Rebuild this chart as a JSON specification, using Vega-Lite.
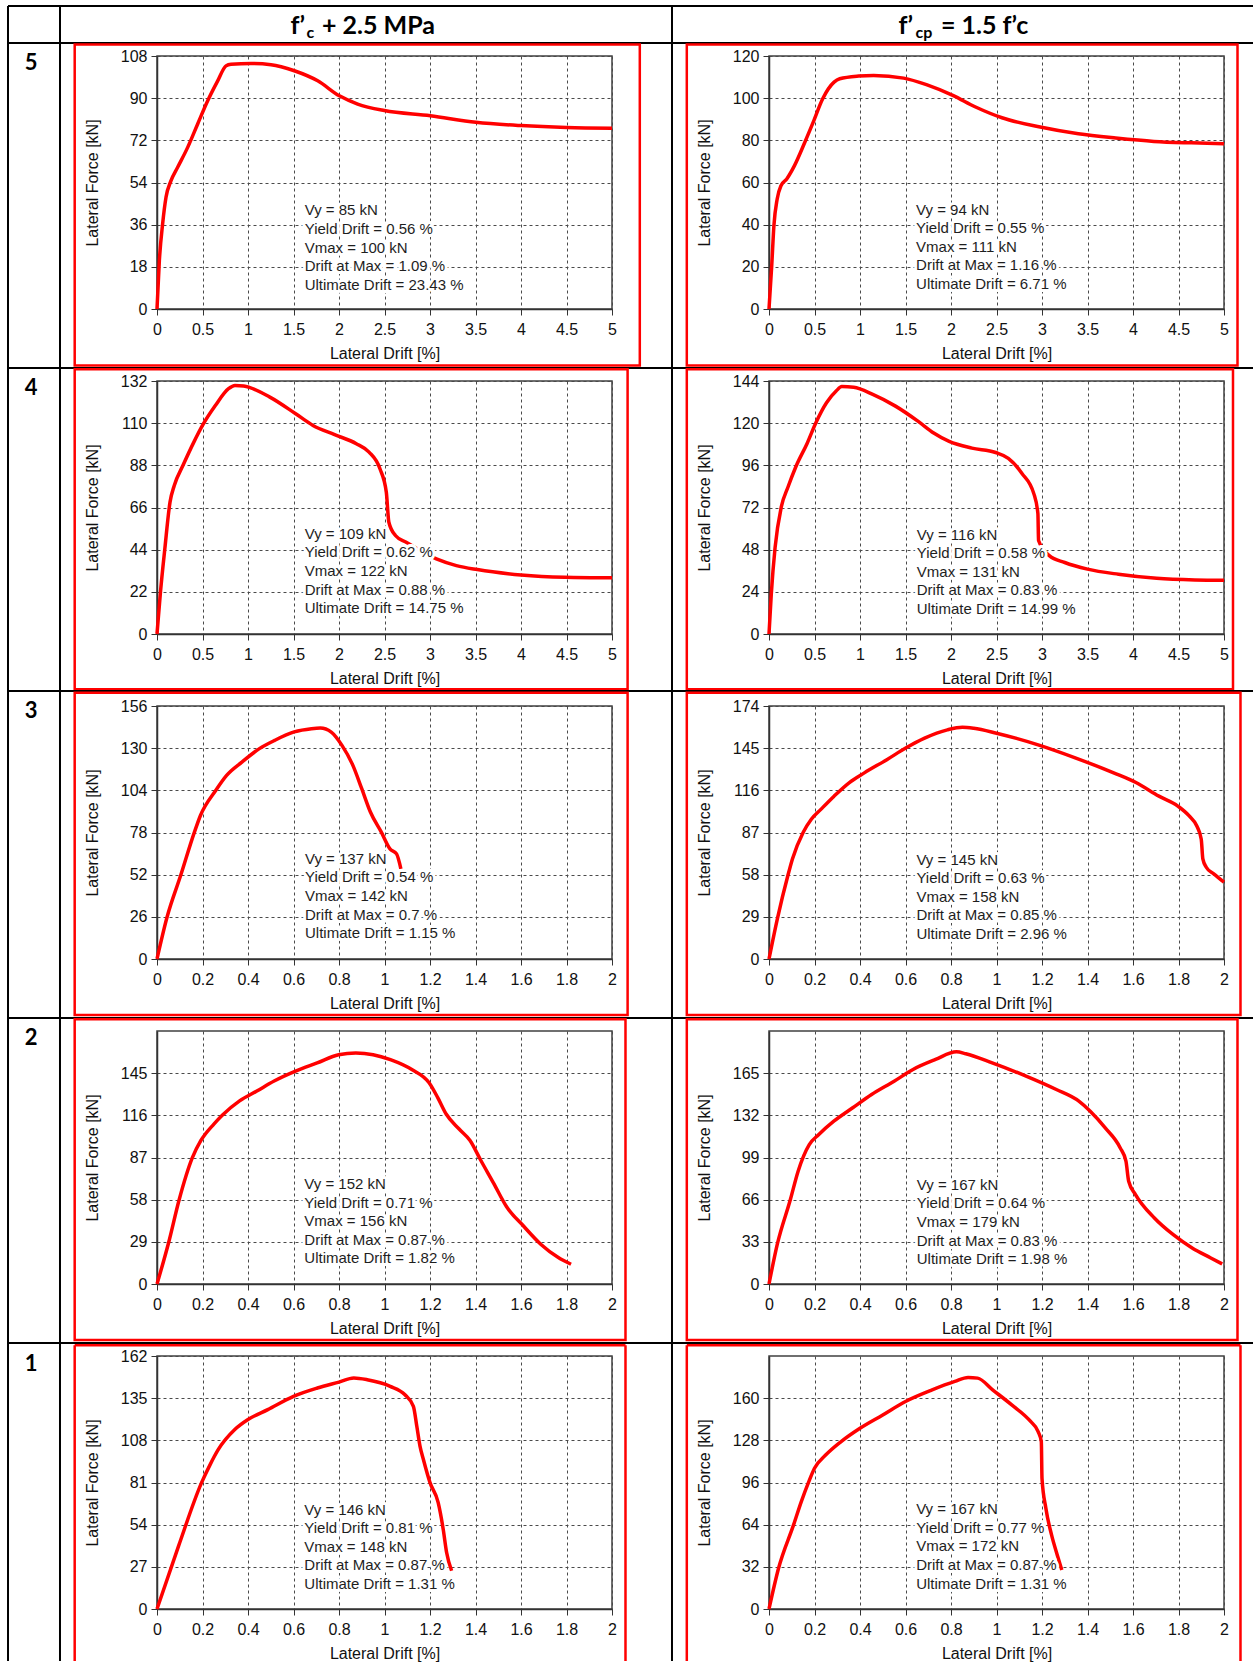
{
"$schema": "https://vega.github.io/schema/vega-lite/v6.json",
"padding": {"left": 6, "top": 4, "right": 0, "bottom": 0},
"background": "white",
"bounds": "flush",
"columns": 2,
"spacing": {"row": 72, "column": 157},
"datasets": {
"one": [{"k": 0}],
"d5a": [{"drift":0,"force":0},{"drift":0.026,"force":20.7},{"drift":0.062,"force":36.4},{"drift":0.099,"force":47.7},{"drift":0.154,"force":54.8},{"drift":0.227,"force":60.5},{"drift":0.337,"force":69},{"drift":0.447,"force":79},{"drift":0.557,"force":88.9},{"drift":0.667,"force":97.4},{"drift":0.758,"force":103.8},{"drift":0.813,"force":104.5},{"drift":1.033,"force":104.8},{"drift":1.253,"force":104.3},{"drift":1.509,"force":101.7},{"drift":1.766,"force":97.4},{"drift":2.004,"force":91},{"drift":2.205,"force":87.5},{"drift":2.498,"force":84.7},{"drift":3.004,"force":82.5},{"drift":3.505,"force":79.7},{"drift":4.0,"force":78.3},{"drift":4.5,"force":77.5},{"drift":5.0,"force":77.2}],
"d5b": [{"drift":0,"force":0},{"drift":0.03,"force":20.6},{"drift":0.054,"force":39.6},{"drift":0.09,"force":52.2},{"drift":0.133,"force":58.6},{"drift":0.195,"force":61.7},{"drift":0.28,"force":68},{"drift":0.395,"force":79.2},{"drift":0.486,"force":88.6},{"drift":0.59,"force":99.7},{"drift":0.715,"force":107.6},{"drift":0.777,"force":109.2},{"drift":0.985,"force":110.5},{"drift":1.15,"force":110.8},{"drift":1.48,"force":109.5},{"drift":1.73,"force":106.4},{"drift":2.02,"force":101.3},{"drift":2.27,"force":95.8},{"drift":2.56,"force":90.7},{"drift":2.98,"force":86.3},{"drift":3.4,"force":83.1},{"drift":3.81,"force":81.1},{"drift":4.23,"force":79.5},{"drift":4.64,"force":78.8},{"drift":5.0,"force":78.4}],
"d4a": [{"drift":0,"force":0},{"drift":0.038,"force":21.8},{"drift":0.086,"force":44.4},{"drift":0.143,"force":68.8},{"drift":0.19,"force":77.5},{"drift":0.286,"force":88},{"drift":0.405,"force":100.1},{"drift":0.5,"force":108.8},{"drift":0.643,"force":119.3},{"drift":0.786,"force":128},{"drift":0.857,"force":129.7},{"drift":0.952,"force":129.4},{"drift":1.24,"force":123.6},{"drift":1.524,"force":114.9},{"drift":1.714,"force":108.8},{"drift":1.952,"force":104},{"drift":2.19,"force":99.3},{"drift":2.33,"force":94.9},{"drift":2.45,"force":86.2},{"drift":2.52,"force":74},{"drift":2.548,"force":58.3},{"drift":2.62,"force":51.4},{"drift":2.738,"force":47.9},{"drift":3.07,"force":39.2},{"drift":3.29,"force":35.7},{"drift":3.52,"force":33.6},{"drift":4.0,"force":30.8},{"drift":4.48,"force":29.6},{"drift":5.0,"force":29.3}],
"d4b": [{"drift":0,"force":0},{"drift":0.025,"force":22.6},{"drift":0.067,"force":49.3},{"drift":0.135,"force":72.3},{"drift":0.21,"force":83.8},{"drift":0.295,"force":95.2},{"drift":0.42,"force":108.6},{"drift":0.514,"force":120.1},{"drift":0.632,"force":131.6},{"drift":0.738,"force":138.3},{"drift":0.8,"force":140.8},{"drift":0.93,"force":140.4},{"drift":1.14,"force":136.4},{"drift":1.39,"force":129.7},{"drift":1.64,"force":121},{"drift":1.81,"force":114.4},{"drift":1.98,"force":109.6},{"drift":2.23,"force":105.8},{"drift":2.49,"force":103.3},{"drift":2.63,"force":100},{"drift":2.78,"force":91.4},{"drift":2.91,"force":79.9},{"drift":2.955,"force":68.5},{"drift":2.962,"force":53.2},{"drift":3.08,"force":44.6},{"drift":3.25,"force":40.7},{"drift":3.5,"force":36.9},{"drift":3.84,"force":34},{"drift":4.26,"force":31.7},{"drift":4.68,"force":30.8},{"drift":5.0,"force":30.6}],
"d3a": [{"drift":0,"force":0},{"drift":0.044,"force":25.7},{"drift":0.105,"force":51.9},{"drift":0.163,"force":77.6},{"drift":0.191,"force":88.5},{"drift":0.258,"force":103.9},{"drift":0.306,"force":113.2},{"drift":0.373,"force":121.4},{"drift":0.45,"force":129.7},{"drift":0.517,"force":134.8},{"drift":0.603,"force":140},{"drift":0.679,"force":142},{"drift":0.718,"force":142.4},{"drift":0.766,"force":139.9},{"drift":0.813,"force":131.7},{"drift":0.861,"force":119.4},{"drift":0.9,"force":105},{"drift":0.938,"force":90.6},{"drift":0.986,"force":78.2},{"drift":1.024,"force":67.9},{"drift":1.053,"force":64.8},{"drift":1.072,"force":55.6}],
"d3b": [{"drift":0,"force":0},{"drift":0.037,"force":27.8},{"drift":0.083,"force":57.4},{"drift":0.103,"force":68.8},{"drift":0.15,"force":87},{"drift":0.186,"force":96.1},{"drift":0.228,"force":102.9},{"drift":0.286,"force":112},{"drift":0.352,"force":121.2},{"drift":0.419,"force":128},{"drift":0.518,"force":137.1},{"drift":0.601,"force":145.1},{"drift":0.684,"force":151.9},{"drift":0.784,"force":157.6},{"drift":0.85,"force":159.4},{"drift":0.9,"force":158.7},{"drift":1.0,"force":155.3},{"drift":1.183,"force":147.3},{"drift":1.349,"force":138.2},{"drift":1.515,"force":128},{"drift":1.615,"force":121.2},{"drift":1.714,"force":112},{"drift":1.797,"force":105.2},{"drift":1.847,"force":98.4},{"drift":1.88,"force":91.6},{"drift":1.9,"force":82.4},{"drift":1.907,"force":68.8},{"drift":1.922,"force":63.1},{"drift":1.955,"force":58.5},{"drift":2.0,"force":52.8}],
"d2a": [{"drift":0,"force":0},{"drift":0.051,"force":28.4},{"drift":0.098,"force":58.3},{"drift":0.155,"force":86.7},{"drift":0.193,"force":98.7},{"drift":0.25,"force":110},{"drift":0.288,"force":116.2},{"drift":0.363,"force":125.9},{"drift":0.439,"force":132.7},{"drift":0.515,"force":139.6},{"drift":0.609,"force":146.4},{"drift":0.704,"force":152},{"drift":0.798,"force":157.7},{"drift":0.874,"force":158.8},{"drift":0.95,"force":157.7},{"drift":1.026,"force":154.3},{"drift":1.12,"force":147.5},{"drift":1.196,"force":138.4},{"drift":1.234,"force":128.2},{"drift":1.271,"force":116.9},{"drift":1.328,"force":106.6},{"drift":1.376,"force":98.7},{"drift":1.423,"force":85.1},{"drift":1.48,"force":69.2},{"drift":1.536,"force":53.3},{"drift":1.612,"force":39.7},{"drift":1.688,"force":27.2},{"drift":1.764,"force":18.2},{"drift":1.82,"force":13.6}],
"d2b": [{"drift":0,"force":0},{"drift":0.036,"force":30.8},{"drift":0.094,"force":66.1},{"drift":0.128,"force":88.3},{"drift":0.177,"force":109.1},{"drift":0.219,"force":117},{"drift":0.285,"force":127.4},{"drift":0.368,"force":137.9},{"drift":0.451,"force":148.3},{"drift":0.55,"force":158.7},{"drift":0.633,"force":167.9},{"drift":0.732,"force":175.7},{"drift":0.824,"force":181.7},{"drift":0.865,"force":180.2},{"drift":0.981,"force":173.1},{"drift":1.13,"force":162.7},{"drift":1.263,"force":152.2},{"drift":1.362,"force":143.1},{"drift":1.412,"force":135.2},{"drift":1.478,"force":122.2},{"drift":1.544,"force":106.5},{"drift":1.569,"force":96.1},{"drift":1.581,"force":80.4},{"drift":1.611,"force":70},{"drift":1.694,"force":51.7},{"drift":1.777,"force":38.6},{"drift":1.86,"force":28.2},{"drift":1.942,"force":20.4},{"drift":1.992,"force":15.7}],
"d1a": [{"drift":0,"force":0},{"drift":0.095,"force":40.4},{"drift":0.196,"force":80.9},{"drift":0.233,"force":92.3},{"drift":0.269,"force":102},{"drift":0.342,"force":114.9},{"drift":0.4,"force":121.3},{"drift":0.487,"force":127.7},{"drift":0.6,"force":136.2},{"drift":0.705,"force":141.5},{"drift":0.8,"force":145.3},{"drift":0.865,"force":147.9},{"drift":0.924,"force":146.8},{"drift":1.025,"force":142.6},{"drift":1.09,"force":137.2},{"drift":1.127,"force":129.8},{"drift":1.142,"force":117},{"drift":1.156,"force":104.3},{"drift":1.171,"force":95.7},{"drift":1.2,"force":80.9},{"drift":1.236,"force":68.1},{"drift":1.258,"force":51.1},{"drift":1.273,"force":36.2},{"drift":1.295,"force":24.5}],
"d1b": [{"drift":0,"force":0},{"drift":0.042,"force":30.9},{"drift":0.108,"force":63.8},{"drift":0.142,"force":81.5},{"drift":0.175,"force":96.7},{"drift":0.2,"force":106.8},{"drift":0.25,"force":117},{"drift":0.317,"force":127.1},{"drift":0.4,"force":137.2},{"drift":0.5,"force":147.3},{"drift":0.6,"force":157.5},{"drift":0.717,"force":166.3},{"drift":0.817,"force":172.7},{"drift":0.875,"force":175.7},{"drift":0.917,"force":175.2},{"drift":0.983,"force":166.3},{"drift":1.067,"force":154.9},{"drift":1.15,"force":142.3},{"drift":1.183,"force":134.7},{"drift":1.197,"force":127.1},{"drift":1.2,"force":99.2},{"drift":1.217,"force":76.5},{"drift":1.242,"force":56.2},{"drift":1.267,"force":41},{"drift":1.287,"force":29.6}]
},
"concat": [
{"width": 455, "height": 253, "layer": [
 {"data": {"name": "d5a"}, "mark": {"type": "line", "color": "#ff0000", "strokeWidth": 3.5, "strokeJoin": "round", "interpolate": "monotone"},
  "encoding": {"x": {"field": "drift", "type": "quantitative", "scale": {"domain": [0, 5], "nice": false, "zero": false}, "axis": {"title": "Lateral Drift [%]", "values": [0,0.5,1,1.5,2,2.5,3,3.5,4,4.5,5], "format": ".1~f"}},
   "y": {"field": "force", "type": "quantitative", "scale": {"domain": [0, 108], "nice": false, "zero": false}, "axis": {"title": "Lateral Force [kN]", "values": [0,18,36,54,72,90,108], "format": "d"}}}},
 {"data": {"name": "one"}, "mark": {"type": "text", "align": "left", "baseline": "middle", "font": "Liberation Sans", "fontSize": 15, "lineHeight": 18.6, "fill": "#ffffff", "stroke": "#ffffff", "strokeWidth": 6, "strokeJoin": "round"},
  "encoding": {"x": {"datum": 1.623}, "y": {"datum": 42.08}, "text": {"value": ["Vy = 85 kN", "Yield Drift = 0.56 %", "Vmax = 100 kN", "Drift at Max = 1.09 %", "Ultimate Drift = 23.43 %"]}}},
 {"data": {"name": "one"}, "mark": {"type": "text", "align": "left", "baseline": "middle", "font": "Liberation Sans", "fontSize": 15, "lineHeight": 18.6, "color": "#1e1e1e"},
  "encoding": {"x": {"datum": 1.623}, "y": {"datum": 42.08}, "text": {"value": ["Vy = 85 kN", "Yield Drift = 0.56 %", "Vmax = 100 kN", "Drift at Max = 1.09 %", "Ultimate Drift = 23.43 %"]}}},
 {"data": {"name": "one"}, "mark": {"type": "rule", "color": "#000000", "strokeWidth": 2}, "encoding": {"x": {"datum": -1.6374}, "x2": {"datum": 12.044}, "y": {"datum": 129.344}}},
 {"data": {"name": "one"}, "mark": {"type": "rule", "color": "#000000", "strokeWidth": 2}, "encoding": {"x": {"datum": -1.6374}, "x2": {"datum": 5.6593}, "y": {"datum": 113.549}}},
 {"data": {"name": "one"}, "mark": {"type": "rule", "color": "#000000", "strokeWidth": 2}, "encoding": {"x": {"datum": -1.6374}, "y": {"datum": 129.344}, "y2": {"datum": -25.186}}},
 {"data": {"name": "one"}, "mark": {"type": "rule", "color": "#000000", "strokeWidth": 2}, "encoding": {"x": {"datum": -1.0659}, "y": {"datum": 129.344}, "y2": {"datum": -25.186}}},
 {"data": {"name": "one"}, "mark": {"type": "rule", "color": "#000000", "strokeWidth": 2}, "encoding": {"x": {"datum": 5.6593}, "y": {"datum": 129.344}, "y2": {"datum": -25.186}}},
 {"data": {"name": "one"}, "mark": {"type": "text", "font": "Lato", "fontWeight": "bold", "fontSize": 22, "align": "center", "baseline": "middle", "color": "#000000"}, "encoding": {"x": {"datum": -1.3846}, "y": {"datum": 105.14}, "text": {"value": "5"}}},
 {"data": {"name": "one"}, "mark": {"type": "rect", "stroke": "#ff0000", "strokeWidth": 2.5, "fillOpacity": 0}, "encoding": {"x": {"datum": -0.9044}, "x2": {"datum": 5.3055}, "y": {"datum": 112.909}, "y2": {"datum": -24.119}}},
 {"data": {"name": "one"}, "mark": {"type": "text", "font": "Lato", "fontWeight": "bold", "fontSize": 25, "align": "right", "baseline": "alphabetic", "dx": -61, "color": "#000000"}, "encoding": {"x": {"datum": 2.2967}, "y": {"datum": 117.263}, "text": {"value": "f’"}}},
 {"data": {"name": "one"}, "mark": {"type": "text", "font": "Lato", "fontWeight": "bold", "fontSize": 16, "align": "left", "baseline": "alphabetic", "dx": -59.5, "dy": 4, "color": "#000000"}, "encoding": {"x": {"datum": 2.2967}, "y": {"datum": 117.263}, "text": {"value": "c"}}},
 {"data": {"name": "one"}, "mark": {"type": "text", "font": "Lato", "fontWeight": "bold", "fontSize": 25, "align": "left", "baseline": "alphabetic", "dx": -44, "color": "#000000"}, "encoding": {"x": {"datum": 2.2967}, "y": {"datum": 117.263}, "text": {"value": "+ 2.5 MPa"}}}
]},
{"width": 455, "height": 253, "layer": [
 {"data": {"name": "d5b"}, "mark": {"type": "line", "color": "#ff0000", "strokeWidth": 3.5, "strokeJoin": "round", "interpolate": "monotone"},
  "encoding": {"x": {"field": "drift", "type": "quantitative", "scale": {"domain": [0, 5], "nice": false, "zero": false}, "axis": {"title": "Lateral Drift [%]", "values": [0,0.5,1,1.5,2,2.5,3,3.5,4,4.5,5], "format": ".1~f"}},
   "y": {"field": "force", "type": "quantitative", "scale": {"domain": [0, 120], "nice": false, "zero": false}, "axis": {"title": "Lateral Force [kN]", "values": [0,20,40,60,80,100,120], "format": "d"}}}},
 {"data": {"name": "one"}, "mark": {"type": "text", "align": "left", "baseline": "middle", "font": "Liberation Sans", "fontSize": 15, "lineHeight": 18.6, "fill": "#ffffff", "stroke": "#ffffff", "strokeWidth": 6, "strokeJoin": "round"},
  "encoding": {"x": {"datum": 1.616}, "y": {"datum": 47.15}, "text": {"value": ["Vy = 94 kN", "Yield Drift = 0.55 %", "Vmax = 111 kN", "Drift at Max = 1.16 %", "Ultimate Drift = 6.71 %"]}}},
 {"data": {"name": "one"}, "mark": {"type": "text", "align": "left", "baseline": "middle", "font": "Liberation Sans", "fontSize": 15, "lineHeight": 18.6, "color": "#1e1e1e"},
  "encoding": {"x": {"datum": 1.616}, "y": {"datum": 47.15}, "text": {"value": ["Vy = 94 kN", "Yield Drift = 0.55 %", "Vmax = 111 kN", "Drift at Max = 1.16 %", "Ultimate Drift = 6.71 %"]}}},
 {"data": {"name": "one"}, "mark": {"type": "rule", "color": "#000000", "strokeWidth": 2}, "encoding": {"x": {"datum": -1.0659}, "x2": {"datum": 5.3187}, "y": {"datum": 126.166}}},
 {"data": {"name": "one"}, "mark": {"type": "rect", "stroke": "#ff0000", "strokeWidth": 2.5, "fillOpacity": 0}, "encoding": {"x": {"datum": -0.9033}, "x2": {"datum": 5.1484}, "y": {"datum": 125.455}, "y2": {"datum": -26.798}}},
 {"data": {"name": "one"}, "mark": {"type": "text", "font": "Lato", "fontWeight": "bold", "fontSize": 25, "align": "right", "baseline": "alphabetic", "dx": -50, "color": "#000000"}, "encoding": {"x": {"datum": 2.1319}, "y": {"datum": 130.293}, "text": {"value": "f’"}}},
 {"data": {"name": "one"}, "mark": {"type": "text", "font": "Lato", "fontWeight": "bold", "fontSize": 16, "align": "left", "baseline": "alphabetic", "dx": -47.5, "dy": 4, "color": "#000000"}, "encoding": {"x": {"datum": 2.1319}, "y": {"datum": 130.293}, "text": {"value": "cp"}}},
 {"data": {"name": "one"}, "mark": {"type": "text", "font": "Lato", "fontWeight": "bold", "fontSize": 25, "align": "left", "baseline": "alphabetic", "dx": -22, "color": "#000000"}, "encoding": {"x": {"datum": 2.1319}, "y": {"datum": 130.293}, "text": {"value": "= 1.5 f’c"}}}
]},
{"width": 455, "height": 253, "layer": [
 {"data": {"name": "d4a"}, "mark": {"type": "line", "color": "#ff0000", "strokeWidth": 3.5, "strokeJoin": "round", "interpolate": "monotone"},
  "encoding": {"x": {"field": "drift", "type": "quantitative", "scale": {"domain": [0, 5], "nice": false, "zero": false}, "axis": {"title": "Lateral Drift [%]", "values": [0,0.5,1,1.5,2,2.5,3,3.5,4,4.5,5], "format": ".1~f"}},
   "y": {"field": "force", "type": "quantitative", "scale": {"domain": [0, 132], "nice": false, "zero": false}, "axis": {"title": "Lateral Force [kN]", "values": [0,22,44,66,88,110,132], "format": "d"}}}},
 {"data": {"name": "one"}, "mark": {"type": "text", "align": "left", "baseline": "middle", "font": "Liberation Sans", "fontSize": 15, "lineHeight": 18.6, "fill": "#ffffff", "stroke": "#ffffff", "strokeWidth": 6, "strokeJoin": "round"},
  "encoding": {"x": {"datum": 1.623}, "y": {"datum": 52.24}, "text": {"value": ["Vy = 109 kN", "Yield Drift = 0.62 %", "Vmax = 122 kN", "Drift at Max = 0.88 %", "Ultimate Drift = 14.75 %"]}}},
 {"data": {"name": "one"}, "mark": {"type": "text", "align": "left", "baseline": "middle", "font": "Liberation Sans", "fontSize": 15, "lineHeight": 18.6, "color": "#1e1e1e"},
  "encoding": {"x": {"datum": 1.623}, "y": {"datum": 52.24}, "text": {"value": ["Vy = 109 kN", "Yield Drift = 0.62 %", "Vmax = 122 kN", "Drift at Max = 0.88 %", "Ultimate Drift = 14.75 %"]}}},
 {"data": {"name": "one"}, "mark": {"type": "rule", "color": "#000000", "strokeWidth": 2}, "encoding": {"x": {"datum": -1.6374}, "x2": {"datum": 5.6593}, "y": {"datum": 138.783}}},
 {"data": {"name": "one"}, "mark": {"type": "rule", "color": "#000000", "strokeWidth": 2}, "encoding": {"x": {"datum": -1.6374}, "y": {"datum": 138.783}, "y2": {"datum": -29.739}}},
 {"data": {"name": "one"}, "mark": {"type": "rule", "color": "#000000", "strokeWidth": 2}, "encoding": {"x": {"datum": -1.0659}, "y": {"datum": 138.783}, "y2": {"datum": -29.739}}},
 {"data": {"name": "one"}, "mark": {"type": "rule", "color": "#000000", "strokeWidth": 2}, "encoding": {"x": {"datum": 5.6593}, "y": {"datum": 138.783}, "y2": {"datum": -29.739}}},
 {"data": {"name": "one"}, "mark": {"type": "text", "font": "Lato", "fontWeight": "bold", "fontSize": 22, "align": "center", "baseline": "middle", "color": "#000000"}, "encoding": {"x": {"datum": -1.3846}, "y": {"datum": 128.504}, "text": {"value": "4"}}},
 {"data": {"name": "one"}, "mark": {"type": "rect", "stroke": "#ff0000", "strokeWidth": 2.5, "fillOpacity": 0}, "encoding": {"x": {"datum": -0.9044}, "x2": {"datum": 5.1714}, "y": {"datum": 138.104}, "y2": {"datum": -28.852}}}
]},
{"width": 455, "height": 253, "layer": [
 {"data": {"name": "d4b"}, "mark": {"type": "line", "color": "#ff0000", "strokeWidth": 3.5, "strokeJoin": "round", "interpolate": "monotone"},
  "encoding": {"x": {"field": "drift", "type": "quantitative", "scale": {"domain": [0, 5], "nice": false, "zero": false}, "axis": {"title": "Lateral Drift [%]", "values": [0,0.5,1,1.5,2,2.5,3,3.5,4,4.5,5], "format": ".1~f"}},
   "y": {"field": "force", "type": "quantitative", "scale": {"domain": [0, 144], "nice": false, "zero": false}, "axis": {"title": "Lateral Force [kN]", "values": [0,24,48,72,96,120,144], "format": "d"}}}},
 {"data": {"name": "one"}, "mark": {"type": "text", "align": "left", "baseline": "middle", "font": "Liberation Sans", "fontSize": 15, "lineHeight": 18.6, "fill": "#ffffff", "stroke": "#ffffff", "strokeWidth": 6, "strokeJoin": "round"},
  "encoding": {"x": {"datum": 1.624}, "y": {"datum": 56.63}, "text": {"value": ["Vy = 116 kN", "Yield Drift = 0.58 %", "Vmax = 131 kN", "Drift at Max = 0.83 %", "Ultimate Drift = 14.99 %"]}}},
 {"data": {"name": "one"}, "mark": {"type": "text", "align": "left", "baseline": "middle", "font": "Liberation Sans", "fontSize": 15, "lineHeight": 18.6, "color": "#1e1e1e"},
  "encoding": {"x": {"datum": 1.624}, "y": {"datum": 56.63}, "text": {"value": ["Vy = 116 kN", "Yield Drift = 0.58 %", "Vmax = 131 kN", "Drift at Max = 0.83 %", "Ultimate Drift = 14.99 %"]}}},
 {"data": {"name": "one"}, "mark": {"type": "rule", "color": "#000000", "strokeWidth": 2}, "encoding": {"x": {"datum": -1.0659}, "x2": {"datum": 5.3187}, "y": {"datum": 151.399}}},
 {"data": {"name": "one"}, "mark": {"type": "rect", "stroke": "#ff0000", "strokeWidth": 2.5, "fillOpacity": 0}, "encoding": {"x": {"datum": -0.9033}, "x2": {"datum": 5.0989}, "y": {"datum": 150.659}, "y2": {"datum": -31.475}}}
]},
{"width": 455, "height": 253, "layer": [
 {"data": {"name": "d3a"}, "mark": {"type": "line", "color": "#ff0000", "strokeWidth": 3.5, "strokeJoin": "round", "interpolate": "monotone"},
  "encoding": {"x": {"field": "drift", "type": "quantitative", "scale": {"domain": [0, 2], "nice": false, "zero": false}, "axis": {"title": "Lateral Drift [%]", "values": [0,0.2,0.4,0.6,0.8,1,1.2,1.4,1.6,1.8,2], "format": ".1~f"}},
   "y": {"field": "force", "type": "quantitative", "scale": {"domain": [0, 156], "nice": false, "zero": false}, "axis": {"title": "Lateral Force [kN]", "values": [0,26,52,78,104,130,156], "format": "d"}}}},
 {"data": {"name": "one"}, "mark": {"type": "text", "align": "left", "baseline": "middle", "font": "Liberation Sans", "fontSize": 15, "lineHeight": 18.6, "fill": "#ffffff", "stroke": "#ffffff", "strokeWidth": 6, "strokeJoin": "round"},
  "encoding": {"x": {"datum": 0.6505}, "y": {"datum": 61.73}, "text": {"value": ["Vy = 137 kN", "Yield Drift = 0.54 %", "Vmax = 142 kN", "Drift at Max = 0.7 %", "Ultimate Drift = 1.15 %"]}}},
 {"data": {"name": "one"}, "mark": {"type": "text", "align": "left", "baseline": "middle", "font": "Liberation Sans", "fontSize": 15, "lineHeight": 18.6, "color": "#1e1e1e"},
  "encoding": {"x": {"datum": 0.6505}, "y": {"datum": 61.73}, "text": {"value": ["Vy = 137 kN", "Yield Drift = 0.54 %", "Vmax = 142 kN", "Drift at Max = 0.7 %", "Ultimate Drift = 1.15 %"]}}},
 {"data": {"name": "one"}, "mark": {"type": "rule", "color": "#000000", "strokeWidth": 2}, "encoding": {"x": {"datum": -0.6549}, "x2": {"datum": 2.2637}, "y": {"datum": 165.249}}},
 {"data": {"name": "one"}, "mark": {"type": "rule", "color": "#000000", "strokeWidth": 2}, "encoding": {"x": {"datum": -0.6549}, "y": {"datum": 165.249}, "y2": {"datum": -36.38}}},
 {"data": {"name": "one"}, "mark": {"type": "rule", "color": "#000000", "strokeWidth": 2}, "encoding": {"x": {"datum": -0.4264}, "y": {"datum": 165.249}, "y2": {"datum": -36.38}}},
 {"data": {"name": "one"}, "mark": {"type": "rule", "color": "#000000", "strokeWidth": 2}, "encoding": {"x": {"datum": 2.2637}, "y": {"datum": 165.249}, "y2": {"datum": -36.38}}},
 {"data": {"name": "one"}, "mark": {"type": "text", "font": "Lato", "fontWeight": "bold", "fontSize": 22, "align": "center", "baseline": "middle", "color": "#000000"}, "encoding": {"x": {"datum": -0.5538}, "y": {"datum": 152.917}, "text": {"value": "3"}}},
 {"data": {"name": "one"}, "mark": {"type": "rect", "stroke": "#ff0000", "strokeWidth": 2.5, "fillOpacity": 0}, "encoding": {"x": {"datum": -0.3618}, "x2": {"datum": 2.0686}, "y": {"datum": 164.201}, "y2": {"datum": -34.53}}}
]},
{"width": 455, "height": 253, "layer": [
 {"data": {"name": "d3b"}, "mark": {"type": "line", "color": "#ff0000", "strokeWidth": 3.5, "strokeJoin": "round", "interpolate": "monotone"},
  "encoding": {"x": {"field": "drift", "type": "quantitative", "scale": {"domain": [0, 2], "nice": false, "zero": false}, "axis": {"title": "Lateral Drift [%]", "values": [0,0.2,0.4,0.6,0.8,1,1.2,1.4,1.6,1.8,2], "format": ".1~f"}},
   "y": {"field": "force", "type": "quantitative", "scale": {"domain": [0, 174], "nice": false, "zero": false}, "axis": {"title": "Lateral Force [kN]", "values": [0,29,58,87,116,145,174], "format": "d"}}}},
 {"data": {"name": "one"}, "mark": {"type": "text", "align": "left", "baseline": "middle", "font": "Liberation Sans", "fontSize": 15, "lineHeight": 18.6, "fill": "#ffffff", "stroke": "#ffffff", "strokeWidth": 6, "strokeJoin": "round"},
  "encoding": {"x": {"datum": 0.648}, "y": {"datum": 68.32}, "text": {"value": ["Vy = 145 kN", "Yield Drift = 0.63 %", "Vmax = 158 kN", "Drift at Max = 0.85 %", "Ultimate Drift = 2.96 %"]}}},
 {"data": {"name": "one"}, "mark": {"type": "text", "align": "left", "baseline": "middle", "font": "Liberation Sans", "fontSize": 15, "lineHeight": 18.6, "color": "#1e1e1e"},
  "encoding": {"x": {"datum": 0.648}, "y": {"datum": 68.32}, "text": {"value": ["Vy = 145 kN", "Yield Drift = 0.63 %", "Vmax = 158 kN", "Drift at Max = 0.85 %", "Ultimate Drift = 2.96 %"]}}},
 {"data": {"name": "one"}, "mark": {"type": "rule", "color": "#000000", "strokeWidth": 2}, "encoding": {"x": {"datum": -0.4264}, "x2": {"datum": 2.1275}, "y": {"datum": 184.316}}},
 {"data": {"name": "one"}, "mark": {"type": "rect", "stroke": "#ff0000", "strokeWidth": 2.5, "fillOpacity": 0}, "encoding": {"x": {"datum": -0.3613}, "x2": {"datum": 2.0725}, "y": {"datum": 183.147}, "y2": {"datum": -38.514}}}
]},
{"width": 455, "height": 253, "layer": [
 {"data": {"name": "d2a"}, "mark": {"type": "line", "color": "#ff0000", "strokeWidth": 3.5, "strokeJoin": "round", "interpolate": "monotone"},
  "encoding": {"x": {"field": "drift", "type": "quantitative", "scale": {"domain": [0, 2], "nice": false, "zero": false}, "axis": {"title": "Lateral Drift [%]", "values": [0,0.2,0.4,0.6,0.8,1,1.2,1.4,1.6,1.8,2], "format": ".1~f"}},
   "y": {"field": "force", "type": "quantitative", "scale": {"domain": [0, 174], "nice": false, "zero": false}, "axis": {"title": "Lateral Force [kN]", "values": [0,29,58,87,116,145], "format": "d"}}}},
 {"data": {"name": "one"}, "mark": {"type": "text", "align": "left", "baseline": "middle", "font": "Liberation Sans", "fontSize": 15, "lineHeight": 18.6, "fill": "#ffffff", "stroke": "#ffffff", "strokeWidth": 6, "strokeJoin": "round"},
  "encoding": {"x": {"datum": 0.6475}, "y": {"datum": 68.73}, "text": {"value": ["Vy = 152 kN", "Yield Drift = 0.71 %", "Vmax = 156 kN", "Drift at Max = 0.87 %", "Ultimate Drift = 1.82 %"]}}},
 {"data": {"name": "one"}, "mark": {"type": "text", "align": "left", "baseline": "middle", "font": "Liberation Sans", "fontSize": 15, "lineHeight": 18.6, "color": "#1e1e1e"},
  "encoding": {"x": {"datum": 0.6475}, "y": {"datum": 68.73}, "text": {"value": ["Vy = 152 kN", "Yield Drift = 0.71 %", "Vmax = 156 kN", "Drift at Max = 0.87 %", "Ultimate Drift = 1.82 %"]}}},
 {"data": {"name": "one"}, "mark": {"type": "rule", "color": "#000000", "strokeWidth": 2}, "encoding": {"x": {"datum": -0.6549}, "x2": {"datum": 2.2637}, "y": {"datum": 182.941}}},
 {"data": {"name": "one"}, "mark": {"type": "rule", "color": "#000000", "strokeWidth": 2}, "encoding": {"x": {"datum": -0.6549}, "y": {"datum": 182.941}, "y2": {"datum": -40.577}}},
 {"data": {"name": "one"}, "mark": {"type": "rule", "color": "#000000", "strokeWidth": 2}, "encoding": {"x": {"datum": -0.4264}, "y": {"datum": 182.941}, "y2": {"datum": -40.577}}},
 {"data": {"name": "one"}, "mark": {"type": "rule", "color": "#000000", "strokeWidth": 2}, "encoding": {"x": {"datum": 2.2637}, "y": {"datum": 182.941}, "y2": {"datum": -40.577}}},
 {"data": {"name": "one"}, "mark": {"type": "text", "font": "Lato", "fontWeight": "bold", "fontSize": 22, "align": "center", "baseline": "middle", "color": "#000000"}, "encoding": {"x": {"datum": -0.5538}, "y": {"datum": 169.392}, "text": {"value": "2"}}},
 {"data": {"name": "one"}, "mark": {"type": "rect", "stroke": "#ff0000", "strokeWidth": 2.5, "fillOpacity": 0}, "encoding": {"x": {"datum": -0.3618}, "x2": {"datum": 2.0593}, "y": {"datum": 182.047}, "y2": {"datum": -38.514}}}
]},
{"width": 455, "height": 253, "layer": [
 {"data": {"name": "d2b"}, "mark": {"type": "line", "color": "#ff0000", "strokeWidth": 3.5, "strokeJoin": "round", "interpolate": "monotone"},
  "encoding": {"x": {"field": "drift", "type": "quantitative", "scale": {"domain": [0, 2], "nice": false, "zero": false}, "axis": {"title": "Lateral Drift [%]", "values": [0,0.2,0.4,0.6,0.8,1,1.2,1.4,1.6,1.8,2], "format": ".1~f"}},
   "y": {"field": "force", "type": "quantitative", "scale": {"domain": [0, 198], "nice": false, "zero": false}, "axis": {"title": "Lateral Force [kN]", "values": [0,33,66,99,132,165], "format": "d"}}}},
 {"data": {"name": "one"}, "mark": {"type": "text", "align": "left", "baseline": "middle", "font": "Liberation Sans", "fontSize": 15, "lineHeight": 18.6, "fill": "#ffffff", "stroke": "#ffffff", "strokeWidth": 6, "strokeJoin": "round"},
  "encoding": {"x": {"datum": 0.6496}, "y": {"datum": 77.67}, "text": {"value": ["Vy = 167 kN", "Yield Drift = 0.64 %", "Vmax = 179 kN", "Drift at Max = 0.83 %", "Ultimate Drift = 1.98 %"]}}},
 {"data": {"name": "one"}, "mark": {"type": "text", "align": "left", "baseline": "middle", "font": "Liberation Sans", "fontSize": 15, "lineHeight": 18.6, "color": "#1e1e1e"},
  "encoding": {"x": {"datum": 0.6496}, "y": {"datum": 77.67}, "text": {"value": ["Vy = 167 kN", "Yield Drift = 0.64 %", "Vmax = 179 kN", "Drift at Max = 0.83 %", "Ultimate Drift = 1.98 %"]}}},
 {"data": {"name": "one"}, "mark": {"type": "rule", "color": "#000000", "strokeWidth": 2}, "encoding": {"x": {"datum": -0.4264}, "x2": {"datum": 2.1275}, "y": {"datum": 208.174}}},
 {"data": {"name": "one"}, "mark": {"type": "rect", "stroke": "#ff0000", "strokeWidth": 2.5, "fillOpacity": 0}, "encoding": {"x": {"datum": -0.3613}, "x2": {"datum": 2.0593}, "y": {"datum": 207.157}, "y2": {"datum": -43.826}}}
]},
{"width": 455, "height": 253, "layer": [
 {"data": {"name": "d1a"}, "mark": {"type": "line", "color": "#ff0000", "strokeWidth": 3.5, "strokeJoin": "round", "interpolate": "monotone"},
  "encoding": {"x": {"field": "drift", "type": "quantitative", "scale": {"domain": [0, 2], "nice": false, "zero": false}, "axis": {"title": "Lateral Drift [%]", "values": [0,0.2,0.4,0.6,0.8,1,1.2,1.4,1.6,1.8,2], "format": ".1~f"}},
   "y": {"field": "force", "type": "quantitative", "scale": {"domain": [0, 162], "nice": false, "zero": false}, "axis": {"title": "Lateral Force [kN]", "values": [0,27,54,81,108,135,162], "format": "d"}}}},
 {"data": {"name": "one"}, "mark": {"type": "text", "align": "left", "baseline": "middle", "font": "Liberation Sans", "fontSize": 15, "lineHeight": 18.6, "fill": "#ffffff", "stroke": "#ffffff", "strokeWidth": 6, "strokeJoin": "round"},
  "encoding": {"x": {"datum": 0.6475}, "y": {"datum": 63.7}, "text": {"value": ["Vy = 146 kN", "Yield Drift = 0.81 %", "Vmax = 148 kN", "Drift at Max = 0.87 %", "Ultimate Drift = 1.31 %"]}}},
 {"data": {"name": "one"}, "mark": {"type": "text", "align": "left", "baseline": "middle", "font": "Liberation Sans", "fontSize": 15, "lineHeight": 18.6, "color": "#1e1e1e"},
  "encoding": {"x": {"datum": 0.6475}, "y": {"datum": 63.7}, "text": {"value": ["Vy = 146 kN", "Yield Drift = 0.81 %", "Vmax = 148 kN", "Drift at Max = 0.87 %", "Ultimate Drift = 1.31 %"]}}},
 {"data": {"name": "one"}, "mark": {"type": "rule", "color": "#000000", "strokeWidth": 2}, "encoding": {"x": {"datum": -0.6549}, "x2": {"datum": 2.2637}, "y": {"datum": 170.324}}},
 {"data": {"name": "one"}, "mark": {"type": "rule", "color": "#000000", "strokeWidth": 2}, "encoding": {"x": {"datum": -0.6549}, "y": {"datum": 170.324}, "y2": {"datum": -33.297}}},
 {"data": {"name": "one"}, "mark": {"type": "rule", "color": "#000000", "strokeWidth": 2}, "encoding": {"x": {"datum": -0.4264}, "y": {"datum": 170.324}, "y2": {"datum": -33.297}}},
 {"data": {"name": "one"}, "mark": {"type": "rule", "color": "#000000", "strokeWidth": 2}, "encoding": {"x": {"datum": 2.2637}, "y": {"datum": 170.324}, "y2": {"datum": -33.297}}},
 {"data": {"name": "one"}, "mark": {"type": "text", "font": "Lato", "fontWeight": "bold", "fontSize": 22, "align": "center", "baseline": "middle", "color": "#000000"}, "encoding": {"x": {"datum": -0.5538}, "y": {"datum": 156.685}, "text": {"value": "1"}}},
 {"data": {"name": "one"}, "mark": {"type": "rule", "color": "#ff0000", "strokeWidth": 2.5}, "encoding": {"x": {"datum": -0.3618}, "x2": {"datum": 2.0593}, "y": {"datum": 168.851}}},
 {"data": {"name": "one"}, "mark": {"type": "rule", "color": "#ff0000", "strokeWidth": 2.5}, "encoding": {"x": {"datum": -0.3618}, "y": {"datum": 168.851}, "y2": {"datum": -33.297}}},
 {"data": {"name": "one"}, "mark": {"type": "rule", "color": "#ff0000", "strokeWidth": 2.5}, "encoding": {"x": {"datum": 2.0593}, "y": {"datum": 168.851}, "y2": {"datum": -33.297}}}
]},
{"width": 455, "height": 253, "layer": [
 {"data": {"name": "d1b"}, "mark": {"type": "line", "color": "#ff0000", "strokeWidth": 3.5, "strokeJoin": "round", "interpolate": "monotone"},
  "encoding": {"x": {"field": "drift", "type": "quantitative", "scale": {"domain": [0, 2], "nice": false, "zero": false}, "axis": {"title": "Lateral Drift [%]", "values": [0,0.2,0.4,0.6,0.8,1,1.2,1.4,1.6,1.8,2], "format": ".1~f"}},
   "y": {"field": "force", "type": "quantitative", "scale": {"domain": [0, 192], "nice": false, "zero": false}, "axis": {"title": "Lateral Force [kN]", "values": [0,32,64,96,128,160], "format": "d"}}}},
 {"data": {"name": "one"}, "mark": {"type": "text", "align": "left", "baseline": "middle", "font": "Liberation Sans", "fontSize": 15, "lineHeight": 18.6, "fill": "#ffffff", "stroke": "#ffffff", "strokeWidth": 6, "strokeJoin": "round"},
  "encoding": {"x": {"datum": 0.6468}, "y": {"datum": 75.8}, "text": {"value": ["Vy = 167 kN", "Yield Drift = 0.77 %", "Vmax = 172 kN", "Drift at Max = 0.87 %", "Ultimate Drift = 1.31 %"]}}},
 {"data": {"name": "one"}, "mark": {"type": "text", "align": "left", "baseline": "middle", "font": "Liberation Sans", "fontSize": 15, "lineHeight": 18.6, "color": "#1e1e1e"},
  "encoding": {"x": {"datum": 0.6468}, "y": {"datum": 75.8}, "text": {"value": ["Vy = 167 kN", "Yield Drift = 0.77 %", "Vmax = 172 kN", "Drift at Max = 0.87 %", "Ultimate Drift = 1.31 %"]}}},
 {"data": {"name": "one"}, "mark": {"type": "rule", "color": "#000000", "strokeWidth": 2}, "encoding": {"x": {"datum": -0.4264}, "x2": {"datum": 2.1275}, "y": {"datum": 201.866}}},
 {"data": {"name": "one"}, "mark": {"type": "rule", "color": "#ff0000", "strokeWidth": 2.5}, "encoding": {"x": {"datum": -0.3613}, "x2": {"datum": 2.0725}, "y": {"datum": 200.12}}},
 {"data": {"name": "one"}, "mark": {"type": "rule", "color": "#ff0000", "strokeWidth": 2.5}, "encoding": {"x": {"datum": -0.3613}, "y": {"datum": 200.12}, "y2": {"datum": -39.462}}},
 {"data": {"name": "one"}, "mark": {"type": "rule", "color": "#ff0000", "strokeWidth": 2.5}, "encoding": {"x": {"datum": 2.0725}, "y": {"datum": 200.12}, "y2": {"datum": -39.462}}}
]}
],
"config": {
 "view": {"stroke": "#404040", "strokeWidth": 1.5},
 "font": "Liberation Sans",
 "axis": {"labelFont": "Liberation Sans", "labelFontSize": 16, "labelColor": "#111111", "titleFont": "Liberation Sans", "titleFontSize": 16, "titleFontWeight": "normal", "titleColor": "#111111", "tickColor": "#333333", "tickSize": 6, "domainColor": "#333333", "domainWidth": 1.5, "gridColor": "#4a4a4a", "gridDash": [3, 3], "gridWidth": 1, "gridOpacity": 1, "labelFlush": false, "labelOverlap": false},
 "axisX": {"labelPadding": 6, "titlePadding": 8},
 "axisY": {"labelPadding": 4, "titlePadding": 20}
}
}
